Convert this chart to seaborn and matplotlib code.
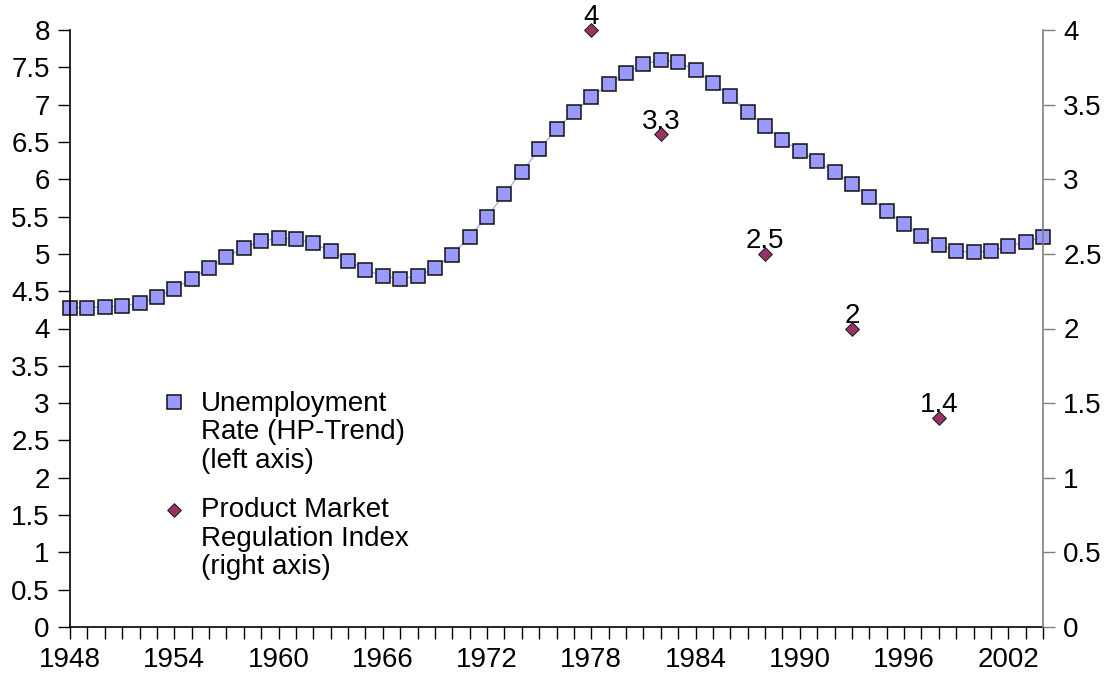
import numpy as np
import pandas as pd
import matplotlib
matplotlib.use("Agg")
import matplotlib.pyplot as plt
import seaborn as sns

# data
years = list(range(1948, 2005))
unemployment = [4.28, 4.28, 4.29, 4.30, 4.34, 4.42, 4.53, 4.67, 4.81, 4.96,
                5.08, 5.17, 5.21, 5.20, 5.14, 5.04, 4.91, 4.79, 4.70, 4.67,
                4.70, 4.81, 4.99, 5.23, 5.50, 5.80, 6.10, 6.40, 6.67, 6.90,
                7.10, 7.27, 7.43, 7.54, 7.60, 7.57, 7.46, 7.29, 7.11, 6.90,
                6.71, 6.53, 6.38, 6.24, 6.10, 5.94, 5.76, 5.58, 5.40, 5.24,
                5.12, 5.04, 5.02, 5.04, 5.10, 5.16, 5.23]
pmr_years = [1978, 1982, 1988, 1993, 1998]
pmr_index = [4.0, 3.3, 2.5, 2.0, 1.4]
pmr_labels = ["4", "3.3", "2.5", "2", "1.4"]
year_labels = [1948, 1954, 1960, 1966, 1972, 1978, 1984, 1990, 1996, 2002]

df = pd.DataFrame({"year": years, "unemployment": unemployment})
pmr = pd.DataFrame({"year": pmr_years, "index": pmr_index})

sns.set_style("white")
plt.rcParams["font.family"] = ["Liberation Sans", "DejaVu Sans"]
fs = 20

fig = plt.figure(figsize=(11.14, 6.79), dpi=100)
ax = fig.add_axes([70 / 1114, 52 / 679, 973 / 1114, 597 / 679])
ax2 = ax.twinx()

sns.lineplot(data=df, x="year", y="unemployment", ax=ax, color="#aaaaff",
             linewidth=1, marker="s", markersize=9.5, markerfacecolor="#9999ff",
             markeredgecolor="#111111", markeredgewidth=1.1, clip_on=False,
             label="Unemployment\nRate (HP-Trend)\n(left axis)", legend=False)
sns.scatterplot(data=pmr, x="year", y="index", ax=ax2, marker="D", s=48,
                color="#993366", edgecolor="#222222", linewidth=0.8,
                clip_on=False, zorder=5,
                label="Product Market\nRegulation Index\n(right axis)", legend=False)

for x, y, t in zip(pmr_years, pmr_index, pmr_labels):
    ax2.annotate(t, (x, y), xytext=(0, 4), textcoords="offset points",
                 ha="center", va="baseline", fontsize=fs, color="black",
                 annotation_clip=False)

ax.set_xlim(1948, 2004)
ax.set_ylim(0, 8)
ax2.set_ylim(0, 4)

ax.set_xticks(years)
ax.set_xticklabels([str(y) if y in year_labels else "" for y in years])
ax.set_yticks(np.arange(0, 8.01, 0.5))
ax.set_yticklabels([f"{v:g}" for v in np.arange(0, 8.01, 0.5)])
ax2.set_yticks(np.arange(0, 4.01, 0.5))
ax2.set_yticklabels([f"{v:g}" for v in np.arange(0, 4.01, 0.5)])

ax.set_xlabel("")
ax.set_ylabel("")
ax2.set_ylabel("")
ax.grid(False)
ax2.grid(False)

ax.spines["top"].set_visible(False)
ax2.spines["top"].set_visible(False)
ax.spines["right"].set_visible(False)
ax2.spines["left"].set_visible(False)
ax2.spines["bottom"].set_visible(False)
ax.spines["left"].set_color("black")
ax.spines["bottom"].set_color("black")
ax2.spines["right"].set_color("#808080")
for sp in ax.spines.values():
    sp.set_linewidth(1.2)
ax2.spines["right"].set_linewidth(1.2)

ax.tick_params(axis="both", direction="out", length=8.5, width=1, colors="black",
               labelsize=fs, left=True, bottom=True)
ax.tick_params(axis="y", pad=6)
ax.tick_params(axis="x", pad=6)
ax2.tick_params(axis="y", direction="out", length=8.5, width=1, color="#808080",
                labelcolor="black", labelsize=fs, right=True, pad=6)

h1, l1 = ax.get_legend_handles_labels()
h2, l2 = ax2.get_legend_handles_labels()
leg = ax2.legend(h1 + h2, l1 + l2, loc="upper left", bbox_to_anchor=(0.075, 0.428),
                 frameon=False, fontsize=fs, handlelength=0.8, handleheight=1.0,
                 handletextpad=0.6, labelspacing=0.85, borderpad=0.2)
leg.legend_handles[0].set_linestyle("none")
for t in leg.get_texts():
    t.set_linespacing(1.12)
    t.set_color("black")
# put the marker next to the first line of each label, as in the original
for col in leg._legend_handle_box.get_children():
    for item in col.get_children():
        item.align = "top"

fig.savefig("out.png", dpi=100)
